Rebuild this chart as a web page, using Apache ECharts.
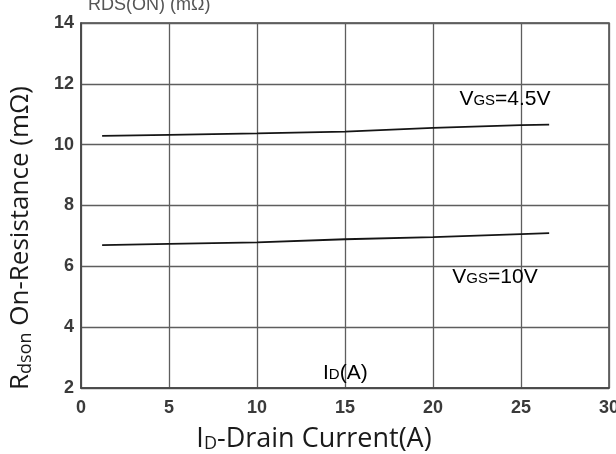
<!DOCTYPE html>
<html><head><meta charset="utf-8">
<script src="https://cdn.jsdelivr.net/npm/echarts@6/dist/echarts.min.js"></script>
<style>html,body{margin:0;padding:0;background:#fff}#c{width:616px;height:454px}</style>
</head><body><div id="c"></div>
<script>
const currentA = [1.2, 5, 10, 15, 20, 25, 26.6];
const rdsVgs45 = [10.29, 10.32, 10.37, 10.43, 10.55, 10.64, 10.66];
const rdsVgs10 = [6.70, 6.74, 6.79, 6.89, 6.96, 7.06, 7.09];
const xTicks = [0, 5, 10, 15, 20, 25, 30];
const yTicks = [2, 4, 6, 8, 10, 12, 14];
const annotations = [
  {x: 21.5, y: 11.15, parts: [['big','V'],['small','GS'],['big','=4.5V']]},
  {x: 21.1, y: 5.3, parts: [['big','V'],['small','GS'],['big','=10V']]},
  {x: 13.75, y: 2.15, parts: [['big','I'],['small','D'],['big','(A)']]}
];

const chart = echarts.init(document.getElementById('c'), null, {renderer: 'canvas'});
const gridColor = '#5e5e5e';
const option = {
  animation: false,
  backgroundColor: '#fff',
  grid: {left: 81, right: 7, top: 23, bottom: 66, containLabel: false, outerBoundsMode: 'none',
    show: true, borderColor: '#444', borderWidth: 1.5, backgroundColor: 'transparent'},
  xAxis: {
    type: 'value', min: 0, max: 30, interval: 5,
    axisLine: {show: true, lineStyle: {color: '#444', width: 1.5}},
    axisTick: {show: false},
    splitLine: {show: true, lineStyle: {color: gridColor, width: 1.3}},
    axisLabel: {margin: 11, fontFamily: 'Liberation Sans', fontSize: 18, color: '#3a3a3a', fontWeight: 'bold',
      formatter: v => xTicks.includes(v) ? String(v) : ''},
    name: '{b|I}{s|D}{b|-Drain Current(A)}', nameLocation: 'middle', nameGap: 37,
    nameTextStyle: {padding: [0, 62, 0, 0], rich: {
      b: {fontFamily: 'Open Sans', fontSize: 27, color: '#1a1a1a'},
      s: {fontFamily: 'Open Sans', fontSize: 18, color: '#1a1a1a', verticalAlign: 'bottom', padding: [10,0,0,0]}
    }}
  },
  yAxis: {
    type: 'value', min: 2, max: 14, interval: 2,
    axisLine: {show: true, lineStyle: {color: '#444', width: 1.5}},
    axisTick: {show: false},
    splitLine: {show: true, lineStyle: {color: gridColor, width: 1.3}},
    axisLabel: {margin: 7, fontFamily: 'Liberation Sans', fontSize: 18, color: '#3a3a3a', fontWeight: 'bold',
      formatter: v => yTicks.includes(v) ? String(v) : ''},
    name: '{b|R}{s|dson}{b| On-Resistance (mΩ)}', nameLocation: 'middle', nameGap: 46, nameRotate: 90,
    nameTextStyle: {padding: [0, 65, 0, 0], rich: {
      b: {fontFamily: 'Open Sans', fontSize: 26, color: '#1a1a1a'},
      s: {fontFamily: 'Open Sans', fontSize: 18, color: '#1a1a1a', verticalAlign: 'bottom', padding: [10,0,0,0]}
    }}
  },
  series: [
    {type: 'line', data: currentA.map((x,i)=>[x, rdsVgs45[i]]), showSymbol: false, smooth: false,
     lineStyle: {color: '#151515', width: 1.8}},
    {type: 'line', data: currentA.map((x,i)=>[x, rdsVgs10[i]]), showSymbol: false, smooth: false,
     lineStyle: {color: '#151515', width: 1.8}}
  ]
};
chart.setOption(option);

const rich = {
  big: {fontFamily: 'Liberation Sans', fontSize: 21, color: '#333'},
  small: {fontFamily: 'Liberation Sans', fontSize: 15, color: '#333', padding: [3,0,0,0]}
};
const graphics = annotations.map(a => {
  const p = chart.convertToPixel({gridIndex: 0}, [a.x, a.y]);
  return {type: 'text', x: p[0], y: p[1], z: 10,
    style: {text: a.parts.map(q => '{' + q[0] + '|' + q[1] + '}').join(''), rich: rich, verticalAlign: 'bottom'}};
});
graphics.push({type: 'text', x: 88, y: -4, style: {text: 'RDS(ON) (mΩ)', fontFamily: 'Liberation Sans', fontSize: 18, fill: '#555'}});
chart.setOption({graphic: graphics});
</script></body></html>
